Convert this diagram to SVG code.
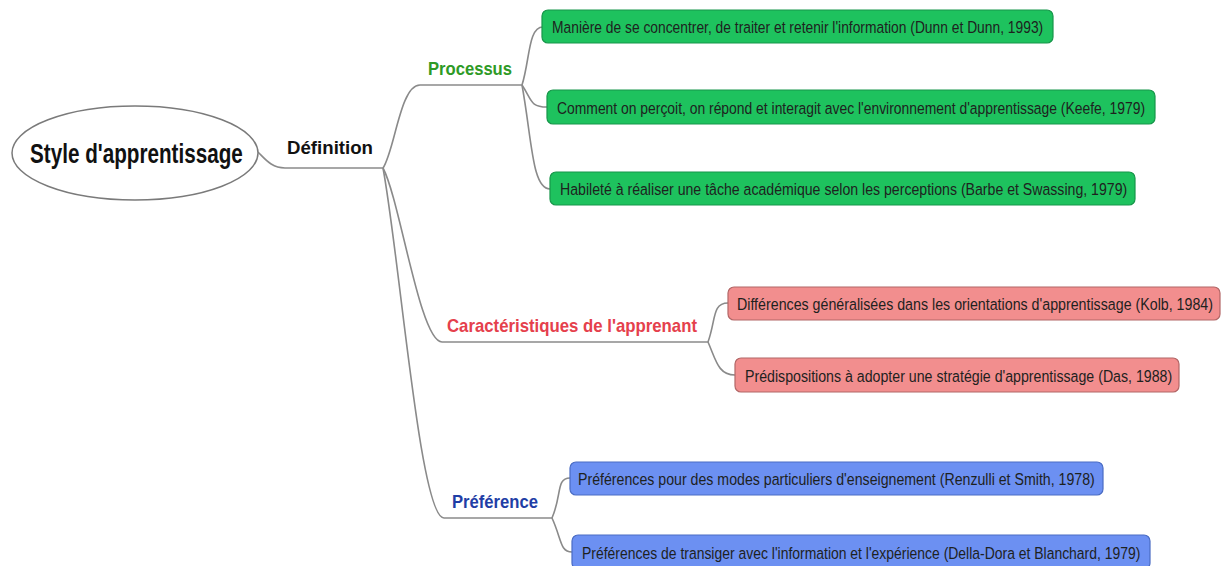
<svg xmlns="http://www.w3.org/2000/svg" width="1222" height="566" viewBox="0 0 1222 566">
<style>
text{font-family:"Liberation Sans",Arial,sans-serif}
.conn path{fill:none;stroke:#8a8a8a;stroke-width:1.6}
.lbl{font-weight:bold;font-size:19px}
.box{stroke-width:1.2}
.g rect{fill:#1ec25e;stroke:#17964a}
.r rect{fill:#f28e8e;stroke:#b26666}
.b rect{fill:#6c90f2;stroke:#4a6cc4}
.bt{font-size:17px;fill:#1e221e}
</style>
<rect width="1222" height="566" fill="#ffffff"/>
<g class="conn">
<path d="M258,152 C266,160 272,168 285,168 L383,168"/>
<path d="M383,168 C395,150 400,85 420,85 L522,85"/>
<path d="M383,168 C400,200 420,342 442,342 L708,342"/>
<path d="M383,168 C400,260 420,518 444,518 L552,518"/>
<path d="M522,85 C530,60 528,27 543,27"/>
<path d="M522,85 C532,100 530,107 547,107"/>
<path d="M522,85 C532,140 532,189 550,189"/>
<path d="M708,342 C716,320 712,303 728,303"/>
<path d="M708,342 C716,360 718,375 735,375"/>
<path d="M552,518 C562,495 556,478 570,478"/>
<path d="M552,518 C562,540 560,552 572,552"/>
</g>
<g id="root">
<ellipse cx="135" cy="153" rx="123" ry="47" fill="#ffffff" stroke="#7a7a7a" stroke-width="1.5"/>
<text transform="translate(30,163) scale(0.8,1)" font-size="28" font-weight="bold" fill="#111" textLength="266" lengthAdjust="spacingAndGlyphs">Style d'apprentissage</text>
</g>
<g id="definition">
<text class="lbl" x="287" y="154" fill="#111" textLength="86" lengthAdjust="spacingAndGlyphs">Définition</text>
</g>
<g id="processus">
<text class="lbl" x="428" y="75" fill="#2e9a26" textLength="84" lengthAdjust="spacingAndGlyphs">Processus</text>
</g>
<g id="caracteristiques">
<text class="lbl" x="447" y="332" fill="#e5404c" textLength="250" lengthAdjust="spacingAndGlyphs">Caractéristiques de l'apprenant</text>
</g>
<g id="preference">
<text class="lbl" x="452" y="508" fill="#1f3ea6" textLength="86" lengthAdjust="spacingAndGlyphs">Préférence</text>
</g>
<g id="p1" class="g">
<rect class="box" x="542" y="10" width="511" height="33" rx="6"/>
<text class="bt" transform="translate(552,33) scale(0.8,1)" textLength="614" lengthAdjust="spacingAndGlyphs">Manière de se concentrer, de traiter et retenir l'information (Dunn et Dunn, 1993)</text>
</g>
<g id="p2" class="g">
<rect class="box" x="547" y="90" width="608" height="34" rx="6"/>
<text class="bt" transform="translate(557,114) scale(0.8,1)" textLength="735" lengthAdjust="spacingAndGlyphs">Comment on perçoit, on répond et interagit avec l'environnement d'apprentissage (Keefe, 1979)</text>
</g>
<g id="p3" class="g">
<rect class="box" x="550" y="172" width="585" height="33" rx="6"/>
<text class="bt" transform="translate(560,195) scale(0.8,1)" textLength="709" lengthAdjust="spacingAndGlyphs">Habileté à réaliser une tâche académique selon les perceptions (Barbe et Swassing, 1979)</text>
</g>
<g id="c1" class="r">
<rect class="box" x="728" y="287" width="492" height="33" rx="6"/>
<text class="bt" transform="translate(737,310) scale(0.8,1)" textLength="595" lengthAdjust="spacingAndGlyphs">Différences généralisées dans les orientations d'apprentissage (Kolb, 1984)</text>
</g>
<g id="c2" class="r">
<rect class="box" x="735" y="358" width="444" height="34" rx="6"/>
<text class="bt" transform="translate(745,382) scale(0.8,1)" textLength="534" lengthAdjust="spacingAndGlyphs">Prédispositions à adopter une stratégie d'apprentissage (Das, 1988)</text>
</g>
<g id="f1" class="b">
<rect class="box" x="570" y="462" width="533" height="33" rx="6"/>
<text class="bt" transform="translate(578,485) scale(0.8,1)" textLength="646" lengthAdjust="spacingAndGlyphs">Préférences pour des modes particuliers d'enseignement (Renzulli et Smith, 1978)</text>
</g>
<g id="f2" class="b">
<rect class="box" x="572" y="535" width="578" height="34" rx="6"/>
<text class="bt" transform="translate(582,559) scale(0.8,1)" textLength="698" lengthAdjust="spacingAndGlyphs">Préférences de transiger avec l'information et l'expérience (Della-Dora et Blanchard, 1979)</text>
</g>
</svg>
